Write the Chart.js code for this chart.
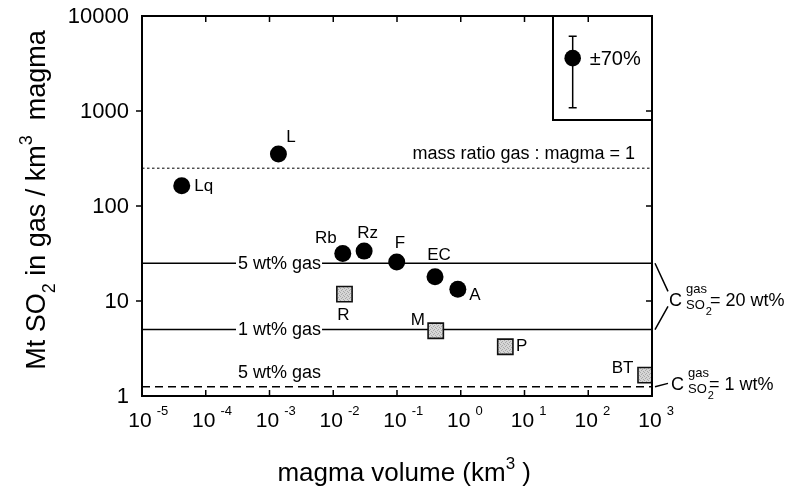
<!DOCTYPE html>
<html>
<head>
<meta charset="utf-8">
<script src="https://cdn.jsdelivr.net/npm/chart.js@4.4.1/dist/chart.umd.min.js"></script>
<style>
  html, body { margin: 0; padding: 0; background: #fff; }
  #wrap { width: 790px; height: 494px; position: relative; }
</style>
</head>
<body>
<div id="wrap"><canvas id="chart"></canvas></div>
<script>
// petrologic estimates (black circles)
const circleNames = ['Lq', 'L', 'Rb', 'Rz', 'F', 'EC', 'A'];
const circleVolume = [4.2e-5, 1.38e-3, 0.0141, 0.0305, 0.099, 0.395, 0.90];
const circleSO2 = [163, 353, 31.7, 33.5, 25.8, 18.0, 13.3];

// grey squares
const squareNames = ['R', 'M', 'P', 'BT'];
const squareVolume = [0.015, 0.405, 5.0, 794];
const squareSO2 = [11.8, 4.86, 3.3, 1.66];

// horizontal reference levels and their captions
const refLevels = [250, 25, 5, 1.25];
const refLabels = ['mass ratio gas : magma = 1', '5 wt% gas', '1 wt% gas', '5 wt% gas'];

// typical uncertainty shown in the corner box
const errVolume = 57;
const errSO2 = 3600;
const errFraction = 0.7;
const errLabel = '\u00b170%';

const xTicks = [1e-5, 1e-4, 1e-3, 1e-2, 1e-1, 1e0, 1e1, 1e2, 1e3];
const xExponents = ['-5', '-4', '-3', '-2', '-1', '0', '1', '2', '3'];
const yTicks = [1, 10, 100, 1000, 10000];
const yTickLabels = ['1', '10', '100', '1000', '10000'];

const FONT = '"Liberation Sans", Arial, Helvetica, sans-serif';
const font = s => s + 'px ' + FONT;

// label placement next to each marker (pixels from the marker centre)
const circleLabelOffsets = [[22, 0], [12.5, -16.7], [-17, -15], [3.5, -17.7], [3.3, -18.4], [4, -21.7], [17, 6]];
const squareLabelOffsets = [[-1, 21], [-18, -10.7], [16.4, 0], [-23, -6.7]];

function stipple() {
  const c = document.createElement('canvas');
  c.width = 4; c.height = 4;
  const g = c.getContext('2d');
  g.fillStyle = '#d6d6d6';
  g.fillRect(0, 0, 4, 4);
  g.fillStyle = '#a8a8a8';
  [[0, 0], [2, 1], [1, 2], [3, 3]].forEach(([i, j]) => g.fillRect(i, j, 1, 1));
  return g.createPattern(c, 'repeat');
}

const toPoints = (xs, ys) => xs.map((v, i) => ({ x: v, y: ys[i] }));

// text runs with sub/superscripts: parts are [text, size, baseline shift]
function runWidth(ctx, parts) {
  let w = 0;
  parts.forEach(([t, s]) => { ctx.font = font(s); w += ctx.measureText(t).width; });
  return w;
}
function drawRun(ctx, parts, x, y) {
  parts.forEach(([t, s, dy]) => {
    ctx.font = font(s);
    ctx.fillText(t, x, y + (dy || 0));
    x += ctx.measureText(t).width;
  });
}

const decorations = {
  id: 'decorations',
  afterDatasetsDraw(chart) {
    const { ctx, chartArea: a, scales: { x, y } } = chart;
    ctx.save();
    ctx.fillStyle = '#000';
    ctx.strokeStyle = '#000';

    // captions on the reference lines
    ctx.textBaseline = 'alphabetic';
    ctx.font = font(18);
    let py = y.getPixelForValue(refLevels[0]);
    ctx.textAlign = 'right';
    ctx.fillText(refLabels[0], a.right - 17, py - 9.5);

    ctx.textAlign = 'left';
    ctx.textBaseline = 'middle';
    [1, 2].forEach(i => {
      py = y.getPixelForValue(refLevels[i]);
      const w = ctx.measureText(refLabels[i]).width;
      ctx.fillStyle = '#fff';
      ctx.fillRect(a.left + 94, py - 3, w + 3, 6);
      ctx.fillStyle = '#000';
      ctx.fillText(refLabels[i], a.left + 96, py + 0.5);
    });
    ctx.textBaseline = 'alphabetic';
    py = y.getPixelForValue(refLevels[3]);
    ctx.fillText(refLabels[3], a.left + 96, py - 9);

    // marker labels
    ctx.textAlign = 'center';
    ctx.textBaseline = 'middle';
    ctx.font = font(17);
    chart.getDatasetMeta(0).data.forEach((p, i) => {
      const [dx, dy] = circleLabelOffsets[i];
      ctx.fillText(circleNames[i], p.x + dx, p.y + dy);
    });
    chart.getDatasetMeta(1).data.forEach((p, i) => {
      const [dx, dy] = squareLabelOffsets[i];
      ctx.fillText(squareNames[i], p.x + dx, p.y + dy);
    });

    // error bar
    const ep = chart.getDatasetMeta(2).data[0];
    const yTop = y.getPixelForValue(errSO2 * (1 + errFraction));
    const yBot = y.getPixelForValue(errSO2 * (1 - errFraction));
    ctx.lineWidth = 1.5;
    ctx.beginPath();
    ctx.moveTo(ep.x, yTop); ctx.lineTo(ep.x, yBot);
    ctx.moveTo(ep.x - 4, yTop); ctx.lineTo(ep.x + 4, yTop);
    ctx.moveTo(ep.x - 4, yBot); ctx.lineTo(ep.x + 4, yBot);
    ctx.stroke();
    ctx.textAlign = 'left';
    ctx.font = font(20);
    ctx.fillText(errLabel, ep.x + 17, ep.y + 1);
    ctx.restore();
  },
  afterDraw(chart) {
    const { ctx, chartArea: a, scales: { x, y } } = chart;
    ctx.save();
    ctx.strokeStyle = '#000';
    ctx.fillStyle = '#000';

    // frame and corner box
    ctx.lineWidth = 2;
    ctx.strokeRect(a.left, a.top, a.right - a.left, a.bottom - a.top);
    ctx.beginPath();
    ctx.moveTo(a.right - 99, a.top);
    ctx.lineTo(a.right - 99, a.top + 104);
    ctx.lineTo(a.right, a.top + 104);
    ctx.stroke();

    // tick marks: outward on the left, inward elsewhere
    ctx.lineWidth = 1.5;
    ctx.beginPath();
    xTicks.slice(1, -1).forEach(v => {
      const px = x.getPixelForValue(v);
      ctx.moveTo(px, a.bottom); ctx.lineTo(px, a.bottom - 6);
      ctx.moveTo(px, a.top); ctx.lineTo(px, a.top + 6);
    });
    yTicks.slice(1, -1).forEach(v => {
      const py = y.getPixelForValue(v);
      ctx.moveTo(a.left, py); ctx.lineTo(a.left - 6, py);
      ctx.moveTo(a.right, py); ctx.lineTo(a.right - 6, py);
    });
    ctx.stroke();

    // y tick labels
    ctx.textAlign = 'right';
    ctx.textBaseline = 'middle';
    ctx.font = font(22);
    yTicks.forEach((v, i) => ctx.fillText(yTickLabels[i], a.left - 13, y.getPixelForValue(v) + 1));

    // x tick labels as powers of ten
    ctx.textBaseline = 'alphabetic';
    xTicks.forEach((v, i) => {
      const px = x.getPixelForValue(v);
      ctx.font = font(21);
      ctx.textAlign = 'center';
      ctx.fillText('10', px - 2, a.bottom + 31);
      const w = ctx.measureText('10').width;
      ctx.font = font(13);
      ctx.textAlign = 'left';
      ctx.fillText(xExponents[i], px - 2 + w / 2 + 5, a.bottom + 19);
    });

    // x title
    ctx.textAlign = 'left';
    const xParts = [['magma volume (km', 26], ['3', 17, -12], [' )', 26]];
    const xw = runWidth(ctx, xParts);
    drawRun(ctx, xParts, a.right - 121 - xw, a.bottom + 85);

    // y title, rotated
    const yParts = [['Mt SO', 27], ['2', 18, 10], [' in gas / km', 27], ['3', 18, -13], ['  magma', 27]];
    const yw = runWidth(ctx, yParts);
    ctx.save();
    ctx.translate(45, 200);
    ctx.rotate(-Math.PI / 2);
    drawRun(ctx, yParts, -yw / 2, 0);
    ctx.restore();

    // brackets naming the SO2 content of the gas
    const r = a.right;
    const y25 = y.getPixelForValue(refLevels[1]);
    const y5 = y.getPixelForValue(refLevels[2]);
    const y125 = y.getPixelForValue(refLevels[3]);
    const cb1 = (y25 + y5) / 2 + 10;
    const cb2 = y125 + 3.3;
    ctx.lineWidth = 1.5;
    ctx.beginPath();
    ctx.moveTo(r + 3, y25); ctx.lineTo(r + 16, cb1 - 15);
    ctx.moveTo(r + 16, cb1); ctx.lineTo(r + 3, y5);
    ctx.moveTo(r + 3, y125); ctx.lineTo(r + 16, y125 - 3.4);
    ctx.stroke();

    [[cb1, 17, '= 20 wt%', 58], [cb2, 19, '= 1 wt%', 57]].forEach(([cb, cx, rest, rx]) => {
      ctx.font = font(18);
      ctx.fillText('C', r + cx, cb);
      ctx.font = font(13);
      ctx.fillText('gas', r + cx + 17, cb - 13);
      ctx.fillText('SO', r + cx + 17, cb + 2.5);
      const sw = ctx.measureText('SO').width;
      ctx.font = font(11);
      ctx.fillText('2', r + cx + 17 + sw + 1, cb + 8.5);
      ctx.font = font(18);
      ctx.fillText(rest, r + rx, cb);
    });
    ctx.restore();
  }
};

const refLine = (level, dash, width) => ({
  data: [{ x: xTicks[0], y: level }, { x: xTicks[xTicks.length - 1], y: level }],
  showLine: true,
  borderColor: '#000',
  borderWidth: width,
  borderDash: dash,
  pointRadius: 0
});

new Chart(document.getElementById('chart'), {
  type: 'scatter',
  data: {
    datasets: [
      {
        data: toPoints(circleVolume, circleSO2),
        pointStyle: 'circle',
        pointRadius: 8.5,
        backgroundColor: '#000',
        borderColor: '#000',
        borderWidth: 0
      },
      {
        data: toPoints(squareVolume, squareSO2),
        pointStyle: 'rect',
        pointRadius: 10.8,
        backgroundColor: stipple(),
        borderColor: '#111',
        borderWidth: 1.6
      },
      {
        data: [{ x: errVolume, y: errSO2 }],
        pointStyle: 'circle',
        pointRadius: 8.3,
        backgroundColor: '#000',
        borderWidth: 0
      },
      refLine(refLevels[0], [2.5, 2.5], 1),
      refLine(refLevels[1], [], 1.5),
      refLine(refLevels[2], [], 1.5),
      refLine(refLevels[3], [8, 5], 1.5)
    ]
  },
  options: {
    responsive: true,
    maintainAspectRatio: false,
    animation: false,
    layout: { padding: { left: 142, top: 16, right: 138, bottom: 98 } },
    plugins: { legend: { display: false }, tooltip: { enabled: false } },
    scales: {
      x: { type: 'logarithmic', min: xTicks[0], max: xTicks[xTicks.length - 1], display: false },
      y: { type: 'logarithmic', min: yTicks[0], max: yTicks[yTicks.length - 1], display: false }
    }
  },
  plugins: [decorations]
});
</script>
</body>
</html>
